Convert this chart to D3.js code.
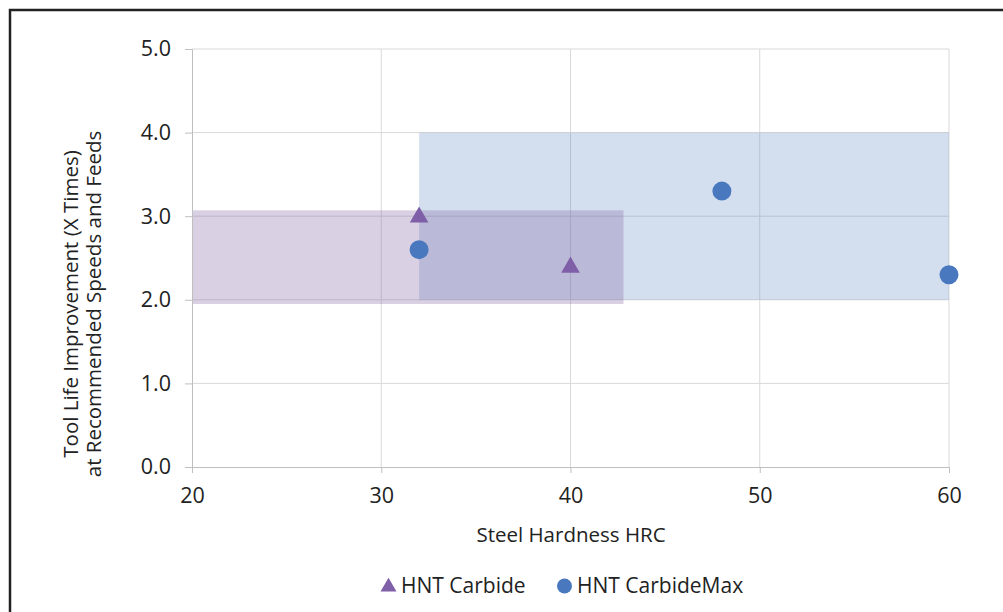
<!DOCTYPE html>
<html>
<head>
<meta charset="utf-8">
<script src="https://cdn.jsdelivr.net/npm/d3@7"></script>
<style>
  body { margin: 0; background: #fff; }
  text { font-family: "Open Sans", sans-serif; fill: #222; }
</style>
</head>
<body>
<script>
var w = 1003;
var h = 612;

// data
var carbideX = [32, 40];
var carbideY = [3.0, 2.4];
var carbideMaxX = [32, 48, 60];
var carbideMaxY = [2.6, 3.3, 2.3];
// shaded ranges: [xFrom, xTo, yFrom, yTo]
var carbideRange = [20, 42.8, 1.95, 3.07];
var carbideMaxRange = [32, 60, 2.0, 4.0];
var xTicks = [20, 30, 40, 50, 60];
var yTicks = [0, 1, 2, 3, 4, 5];

var purple = "#7f5fa8";
var blue = "#4a78bf";

var svg = d3.select("body")
    .append("svg")
    .attr("width", w)
    .attr("height", h);

// frame (only left and top show in the picture)
svg.append("path")
    .attr("d", "M10," + h + " L10,10 L" + w + ",10")
    .attr("fill", "none")
    .attr("stroke", "#222")
    .attr("stroke-width", 2.5);

var xScale = d3.scaleLinear().domain([20, 60]).range([192, 949]);
var yScale = d3.scaleLinear().domain([0, 5]).range([467, 49]);

// grid
svg.append("g").selectAll("line")
    .data(xTicks.slice(1))
    .enter()
    .append("line")
    .attr("x1", function(d) { return xScale(d); })
    .attr("x2", function(d) { return xScale(d); })
    .attr("y1", yScale(5))
    .attr("y2", yScale(0))
    .attr("stroke", "#d9d9d9");
svg.append("g").selectAll("line")
    .data(yTicks.slice(1))
    .enter()
    .append("line")
    .attr("x1", xScale(20))
    .attr("x2", xScale(60))
    .attr("y1", function(d) { return yScale(d); })
    .attr("y2", function(d) { return yScale(d); })
    .attr("stroke", "#d9d9d9");

// shaded ranges
function band(r, col, op) {
  svg.append("rect")
    .attr("x", xScale(r[0]))
    .attr("y", yScale(r[3]))
    .attr("width", xScale(r[1]) - xScale(r[0]))
    .attr("height", yScale(r[2]) - yScale(r[3]))
    .attr("fill", col)
    .attr("fill-opacity", op);
}
band(carbideMaxRange, "#4f81bd", 0.25);
band(carbideRange, "#8064a2", 0.3);

// axes
var xAxis = d3.axisBottom(xScale).tickValues(xTicks).tickSize(6).tickPadding(15).tickFormat(d3.format("d"));
var gx = svg.append("g")
    .attr("transform", "translate(0," + yScale(0) + ")")
    .call(xAxis);
var yAxis = d3.axisLeft(yScale).tickValues(yTicks).tickSize(7).tickPadding(14).tickFormat(d3.format(".1f"));
var gy = svg.append("g")
    .attr("transform", "translate(" + xScale(20) + ",0)")
    .call(yAxis);
[gx, gy].forEach(function(g) {
  g.select(".domain").attr("stroke", "#bfbfbf");
  g.selectAll(".tick line").attr("stroke", "#bfbfbf");
  g.selectAll(".tick text")
    .attr("font-family", "Open Sans, sans-serif")
    .attr("font-size", "21.5px")
    .attr("fill", "#222");
});

// points
var tri = d3.symbol().type(d3.symbolTriangle).size(150);
svg.append("g").selectAll("path")
    .data(carbideX)
    .enter()
    .append("path")
    .attr("d", tri)
    .attr("transform", function(d, i) {
      return "translate(" + xScale(d) + "," + (yScale(carbideY[i]) + 1) + ")";
    })
    .attr("fill", purple);

svg.append("g").selectAll("circle")
    .data(carbideMaxX)
    .enter()
    .append("circle")
    .attr("cx", function(d) { return xScale(d); })
    .attr("cy", function(d, i) { return yScale(carbideMaxY[i]); })
    .attr("r", 9.5)
    .attr("fill", blue);

// titles
svg.append("text")
    .attr("x", 571)
    .attr("y", 542)
    .attr("text-anchor", "middle")
    .attr("font-size", "20.5px")
    .text("Steel Hardness HRC");

var yt = svg.append("text")
    .attr("transform", "translate(78,304) rotate(-90)")
    .attr("text-anchor", "middle")
    .attr("font-size", "20.5px");
yt.append("tspan").attr("x", 0).attr("dy", 0).text("Tool Life Improvement (X Times)");
yt.append("tspan").attr("x", 0).attr("dy", 23).text("at Recommended Speeds and Feeds");

// legend
var lg = svg.append("g").attr("transform", "translate(0,586)");
lg.append("path")
    .attr("d", d3.symbol().type(d3.symbolTriangle).size(110))
    .attr("transform", "translate(388.5,1)")
    .attr("fill", purple);
lg.append("text").attr("x", 401).attr("y", 7).attr("font-size", "21px").text("HNT Carbide");
lg.append("circle").attr("cx", 564.5).attr("cy", 0).attr("r", 7.5).attr("fill", blue);
lg.append("text").attr("x", 577).attr("y", 7).attr("font-size", "21px").text("HNT CarbideMax");
</script>
</body>
</html>
